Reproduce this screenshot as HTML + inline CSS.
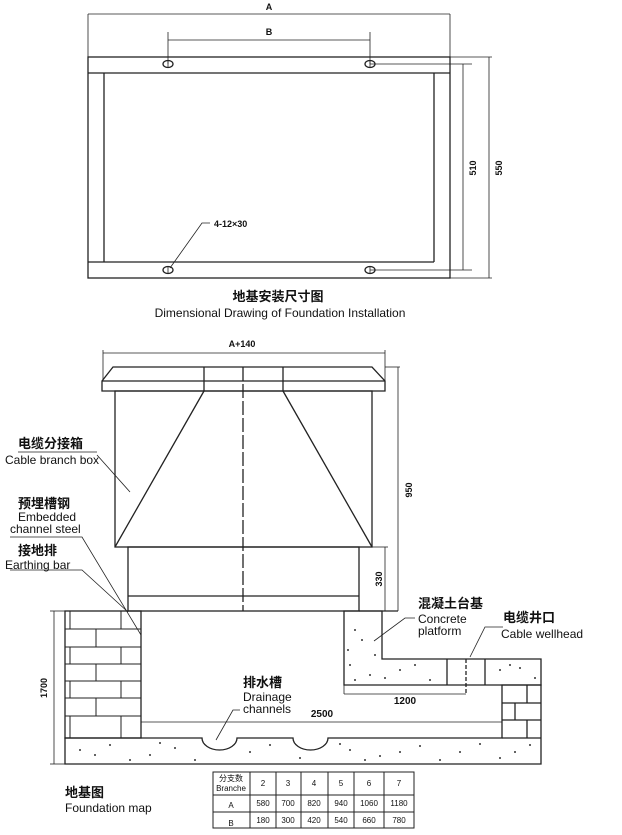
<!DOCTYPE html>
<html><head><meta charset="utf-8"><style>
body{margin:0;background:#fff;width:622px;height:835px;overflow:hidden}
svg{display:block}
text{font-family:"Liberation Sans","Noto Sans CJK SC",sans-serif;fill:#111}
.b{font-weight:bold}
</style></head><body>
<svg width="622" height="835" viewBox="0 0 622 835" xmlns="http://www.w3.org/2000/svg">
<g stroke="#222" fill="none" stroke-width="1.3">
<rect x="88" y="57" width="362" height="221"/>
<line x1="88" y1="73" x2="450" y2="73"/>
<line x1="88" y1="262" x2="434" y2="262"/>
<line x1="104" y1="73" x2="104" y2="262"/>
<line x1="434" y1="73" x2="434" y2="262"/>
<line x1="88" y1="14" x2="88" y2="57" stroke-width="0.8"/>
<line x1="450" y1="14" x2="450" y2="57" stroke-width="0.8"/>
<line x1="88" y1="14" x2="450" y2="14" stroke-width="0.8"/>
<line x1="168" y1="32" x2="168" y2="64" stroke-width="0.8"/>
<line x1="370" y1="32" x2="370" y2="64" stroke-width="0.8"/>
<line x1="168" y1="40" x2="370" y2="40" stroke-width="0.8"/>
<line x1="370" y1="64" x2="472" y2="64" stroke-width="0.8"/>
<line x1="370" y1="270" x2="472" y2="270" stroke-width="0.8"/>
<line x1="463" y1="64" x2="463" y2="270" stroke-width="0.8"/>
<line x1="450" y1="57" x2="492" y2="57" stroke-width="0.8"/>
<line x1="450" y1="278" x2="492" y2="278" stroke-width="0.8"/>
<line x1="489" y1="57" x2="489" y2="278" stroke-width="0.8"/>
<ellipse cx="168" cy="64" rx="5" ry="3.5"/><ellipse cx="370" cy="64" rx="5" ry="3.5"/>
<ellipse cx="168" cy="270" rx="5" ry="3.5"/><ellipse cx="370" cy="270" rx="5" ry="3.5"/>
<line x1="168" y1="60" x2="168" y2="68" stroke-width="0.8"/><line x1="370" y1="60" x2="370" y2="68" stroke-width="0.8"/>
<line x1="168" y1="266" x2="168" y2="274" stroke-width="0.8"/><line x1="370" y1="266" x2="370" y2="274" stroke-width="0.8"/>
<polyline points="170,268 202,223 210,223" stroke-width="0.8"/>

<line x1="103" y1="353" x2="385" y2="353" stroke-width="0.8"/>
<line x1="103" y1="350" x2="103" y2="381" stroke-width="0.8"/>
<line x1="385" y1="350" x2="385" y2="381" stroke-width="0.8"/>
<polygon points="113,367 372,367 385,381 385,391 102,391 102,381"/>
<line x1="102" y1="381" x2="385" y2="381"/>
<line x1="204" y1="367" x2="204" y2="391"/><line x1="283" y1="367" x2="283" y2="391"/>
<rect x="115" y="391" width="257" height="156"/>
<line x1="204" y1="391" x2="115" y2="547"/><line x1="283" y1="391" x2="372" y2="547"/>
<line x1="243" y1="367" x2="243" y2="611" stroke-dasharray="14,3"/>
<rect x="128" y="547" width="231" height="64"/>
<line x1="128" y1="596" x2="359" y2="596"/>
<line x1="359" y1="611" x2="398" y2="611"/>
<line x1="372" y1="547" x2="388" y2="547" stroke-width="0.8"/>
<line x1="385" y1="547" x2="385" y2="611" stroke-width="0.8"/>
<line x1="385" y1="367" x2="400" y2="367" stroke-width="0.8"/>
<line x1="398" y1="367" x2="398" y2="611" stroke-width="0.8"/>

<line x1="18" y1="452" x2="97" y2="452" stroke-width="0.8"/>
<line x1="97" y1="455" x2="130" y2="492" stroke-width="0.8"/>
<polyline points="10,537 82,537 141,635" stroke-width="0.8"/>
<polyline points="10,570 82,570 128,612" stroke-width="0.8"/>

<rect x="65" y="611" width="76" height="127"/>
<g stroke-width="1">
<line x1="65" y1="629" x2="141" y2="629"/><line x1="65" y1="647" x2="141" y2="647"/>
<line x1="65" y1="664" x2="141" y2="664"/><line x1="65" y1="681" x2="141" y2="681"/>
<line x1="65" y1="698" x2="141" y2="698"/><line x1="65" y1="716" x2="141" y2="716"/>
<line x1="121" y1="611" x2="121" y2="629"/><line x1="70" y1="611" x2="70" y2="629"/>
<line x1="96" y1="629" x2="96" y2="647"/>
<line x1="121" y1="647" x2="121" y2="664"/><line x1="70" y1="647" x2="70" y2="664"/>
<line x1="96" y1="664" x2="96" y2="681"/>
<line x1="121" y1="681" x2="121" y2="698"/><line x1="70" y1="681" x2="70" y2="698"/>
<line x1="96" y1="698" x2="96" y2="716"/>
<line x1="121" y1="716" x2="121" y2="738"/><line x1="70" y1="716" x2="70" y2="738"/>
</g>
<path d="M65,738 H202 A17.5,12 0 0 0 237,738 H293 A17.5,12 0 0 0 328,738 H502 V685 H541 V764 H65 Z"/>
<line x1="502" y1="738" x2="541" y2="738"/>
<line x1="502" y1="703" x2="541" y2="703"/><line x1="502" y1="720" x2="541" y2="720"/>
<line x1="527" y1="685" x2="527" y2="703"/><line x1="515" y1="703" x2="515" y2="720"/><line x1="527" y1="720" x2="527" y2="738"/>
<path d="M344,611 H382 V659 H541 V685 H344 Z"/>
<line x1="447" y1="659" x2="447" y2="685"/><line x1="466" y1="659" x2="466" y2="694" stroke-dasharray="4,2"/><line x1="485" y1="659" x2="485" y2="685"/>
<line x1="344" y1="685" x2="344" y2="694" stroke-width="0.8"/>
<line x1="344" y1="694" x2="466" y2="694" stroke-width="0.8"/>
<line x1="141" y1="722" x2="502" y2="722" stroke-width="0.8"/>
<line x1="54" y1="611" x2="54" y2="764" stroke-width="0.8"/>
<line x1="50" y1="611" x2="65" y2="611" stroke-width="0.8"/><line x1="50" y1="764" x2="65" y2="764" stroke-width="0.8"/>
<polyline points="415,618 405,618 374,641" stroke-width="0.8"/>
<polyline points="503,627 485,627 470,657" stroke-width="0.8"/>
<polyline points="240,710 233,710 216,740" stroke-width="0.8"/>

<rect x="213" y="772" width="201" height="56" stroke-width="1"/>
<line x1="213" y1="795" x2="414" y2="795" stroke-width="1"/>
<line x1="213" y1="812" x2="414" y2="812" stroke-width="1"/>
<g stroke-width="1">
<line x1="250" y1="772" x2="250" y2="828"/><line x1="276" y1="772" x2="276" y2="828"/>
<line x1="301" y1="772" x2="301" y2="828"/><line x1="328" y1="772" x2="328" y2="828"/>
<line x1="354" y1="772" x2="354" y2="828"/><line x1="384" y1="772" x2="384" y2="828"/>
</g>
</g>
<g fill="#333">
<circle cx="80" cy="750" r="1"/><circle cx="110" cy="745" r="1"/><circle cx="150" cy="755" r="1"/><circle cx="175" cy="748" r="1"/><circle cx="250" cy="752" r="1"/><circle cx="270" cy="745" r="1"/><circle cx="350" cy="750" r="1"/><circle cx="380" cy="756" r="1"/><circle cx="420" cy="746" r="1"/><circle cx="460" cy="752" r="1"/><circle cx="500" cy="758" r="1"/><circle cx="530" cy="745" r="1"/><circle cx="130" cy="760" r="1"/><circle cx="300" cy="758" r="1"/>
<circle cx="95" cy="755" r="1"/><circle cx="160" cy="743" r="1"/><circle cx="195" cy="760" r="1"/><circle cx="340" cy="744" r="1"/><circle cx="365" cy="760" r="1"/><circle cx="400" cy="752" r="1"/><circle cx="440" cy="760" r="1"/><circle cx="480" cy="744" r="1"/><circle cx="515" cy="752" r="1"/>
<circle cx="355" cy="630" r="1"/><circle cx="362" cy="640" r="1"/><circle cx="350" cy="665" r="1"/><circle cx="370" cy="675" r="1"/><circle cx="400" cy="670" r="1"/><circle cx="430" cy="680" r="1"/><circle cx="500" cy="670" r="1"/><circle cx="520" cy="668" r="1"/><circle cx="535" cy="678" r="1"/>
<circle cx="348" cy="650" r="1"/><circle cx="375" cy="655" r="1"/><circle cx="385" cy="678" r="1"/><circle cx="415" cy="665" r="1"/><circle cx="355" cy="680" r="1"/><circle cx="510" cy="665" r="1"/>
</g>
<text x="269" y="10" font-size="9" class="b" text-anchor="middle">A</text>
<text x="269" y="35" font-size="9" class="b" text-anchor="middle">B</text>
<text x="214" y="227" font-size="9" class="b">4-12×30</text>
<text transform="translate(476,168) rotate(-90)" font-size="9" class="b" text-anchor="middle">510</text>
<text transform="translate(502,168) rotate(-90)" font-size="9" class="b" text-anchor="middle">550</text>
<text x="278" y="301" font-size="13" class="b" text-anchor="middle">地基安装尺寸图</text>
<text x="280" y="317" font-size="12" text-anchor="middle">Dimensional Drawing of Foundation Installation</text>
<text x="242" y="347" font-size="9" class="b" text-anchor="middle">A+140</text>
<text transform="translate(412,490) rotate(-90)" font-size="9" class="b" text-anchor="middle">950</text>
<text transform="translate(382,579) rotate(-90)" font-size="9" class="b" text-anchor="middle">330</text>
<text transform="translate(47,688) rotate(-90)" font-size="9" class="b" text-anchor="middle">1700</text>
<text x="18" y="448" font-size="13" class="b">电缆分接箱</text>
<text x="5" y="464" font-size="12">Cable branch box</text>
<text x="18" y="508" font-size="13" class="b">预埋槽钢</text>
<text x="18" y="521" font-size="12">Embedded</text>
<text x="10" y="533" font-size="12">channel steel</text>
<text x="18" y="555" font-size="13" class="b">接地排</text>
<text x="5" y="569" font-size="12">Earthing bar</text>
<text x="418" y="608" font-size="13" class="b">混凝土台基</text>
<text x="418" y="623" font-size="12">Concrete</text>
<text x="418" y="635" font-size="12">platform</text>
<text x="503" y="622" font-size="13" class="b">电缆井口</text>
<text x="501" y="638" font-size="12">Cable wellhead</text>
<text x="243" y="687" font-size="13" class="b">排水槽</text>
<text x="243" y="701" font-size="12">Drainage</text>
<text x="243" y="713" font-size="12">channels</text>
<text x="322" y="717" font-size="10" class="b" text-anchor="middle">2500</text>
<text x="405" y="704" font-size="10" class="b" text-anchor="middle">1200</text>
<text x="65" y="797" font-size="13" class="b">地基图</text>
<text x="65" y="812" font-size="12">Foundation map</text>
<g font-size="8" text-anchor="middle" style="font-family:'Liberation Serif','Noto Serif CJK SC',serif">
<text x="231" y="781">分支数</text>
<text x="231" y="791" style="font-family:'Liberation Sans',sans-serif">Branche</text>
<text x="263" y="786">2</text><text x="288" y="786">3</text><text x="314" y="786">4</text><text x="341" y="786">5</text><text x="369" y="786">6</text><text x="399" y="786">7</text>
<text x="231" y="808">A</text>
<text x="263" y="806">580</text><text x="288" y="806">700</text><text x="314" y="806">820</text><text x="341" y="806">940</text><text x="369" y="806">1060</text><text x="399" y="806">1180</text>
<text x="231" y="826">B</text>
<text x="263" y="823">180</text><text x="288" y="823">300</text><text x="314" y="823">420</text><text x="341" y="823">540</text><text x="369" y="823">660</text><text x="399" y="823">780</text>
</g>
</svg>
</body></html>
